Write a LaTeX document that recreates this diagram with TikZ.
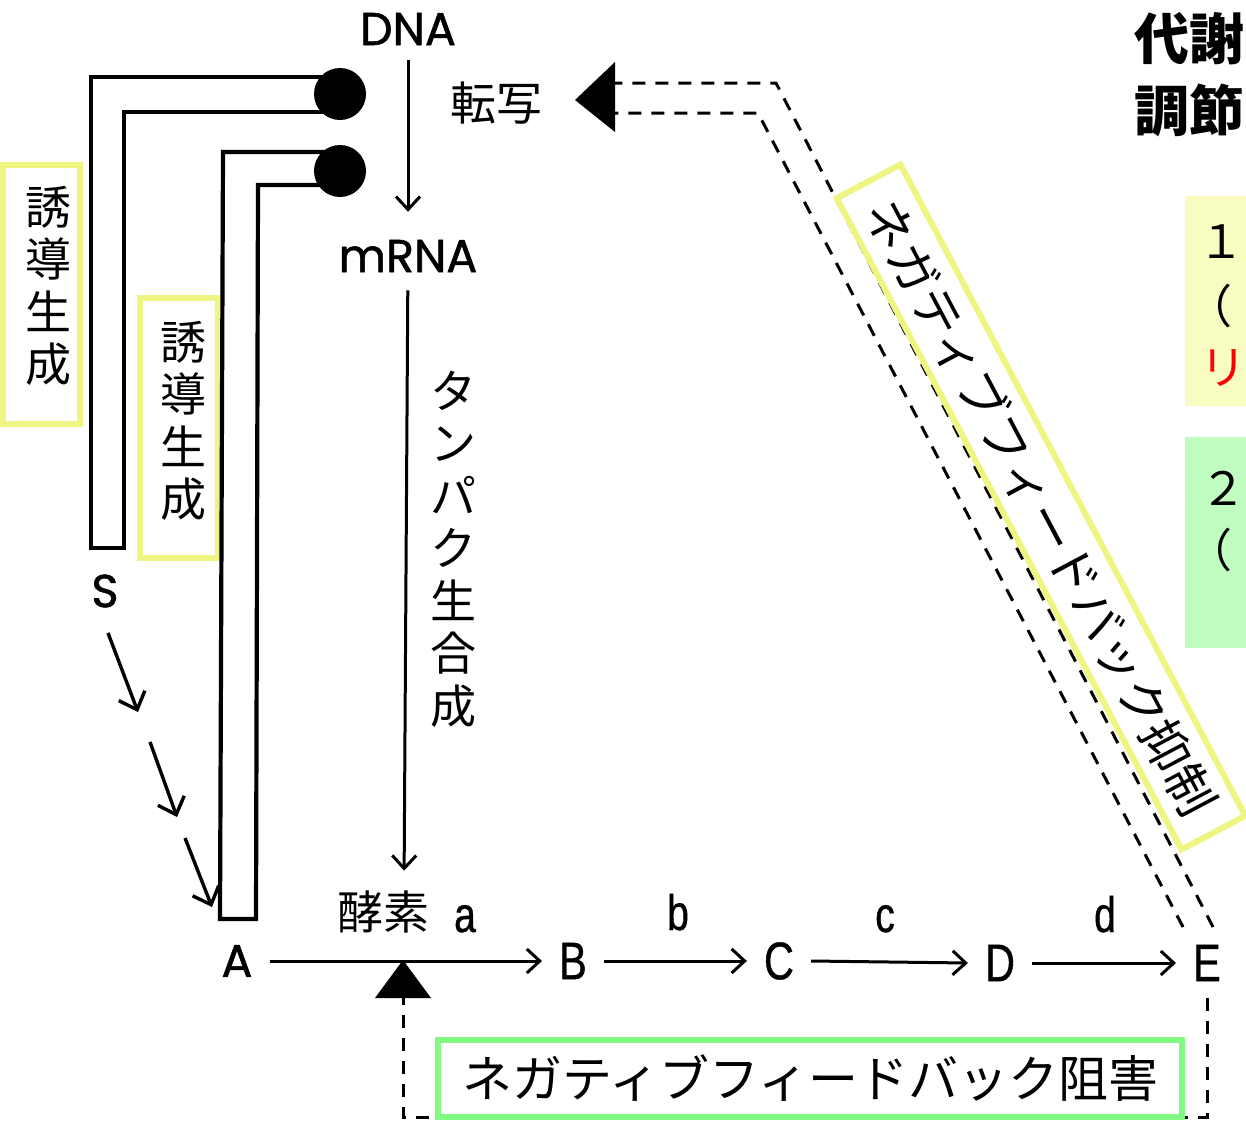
\documentclass[tikz,border=0pt]{standalone}
\usepackage{fontspec}
\usetikzlibrary{arrows.meta}
\newfontfamily\jpf{Noto Sans CJK JP}
\newfontfamily\geof[FakeBold=1.2]{Poppins}
\newfontfamily\condf[FakeStretch=0.78,FakeBold=0.8]{Liberation Sans}
\definecolor{yline}{RGB}{240,244,130}
\definecolor{gline}{RGB}{130,250,130}
\definecolor{yfill}{RGB}{248,252,192}
\definecolor{gfill}{RGB}{192,252,192}
\definecolor{redtxt}{RGB}{255,0,0}
\begin{document}
\begin{tikzpicture}[x=1bp,y=-1bp,
  geo/.style={font=\geof\fontsize{46bp}{50bp}\selectfont, inner xsep=6bp, inner ysep=15bp},
  letter/.style={font=\condf\fontsize{53bp}{56bp}\selectfont, inner xsep=17bp, inner ysep=6bp},
  small/.style={font=\condf\fontsize{50bp}{56bp}\selectfont, inner sep=0bp, anchor=base},
  jp/.style={font=\jpf\fontsize{46bp}{52bp}\selectfont, inner sep=4bp},
  vert/.style={font=\jpf\fontsize{46bp}{52.5bp}\selectfont, inner sep=0bp, align=center},
  arr/.style={line width=3bp, -{Straight Barb[length=13bp,width=24bp,line width=3bp]}},
  sarr/.style={line width=3.4bp, -{Straight Barb[length=15bp,width=28bp,line width=3.4bp]}},
  fb/.style={line width=3bp, dash pattern=on 13bp off 10bp},
  hose/.style={line width=4.2bp, line join=miter},
  ylw/.style={draw=yline, line width=6bp},
  dot/.style={circle, fill=black, minimum size=52bp, inner sep=0bp},
]
\useasboundingbox (0,0) rectangle (1246,1126);
\clip (0,0) rectangle (1246,1126);
\fill[white] (0,0) rectangle (1246,1126);

% ---- right column (cut off) ----
\node[font=\jpf\bfseries\fontsize{55bp}{72bp}\selectfont, anchor=north west, align=left, inner sep=0bp] (title) at (1134,12) {代謝\\調節};
\fill[yfill] (1185,196) rectangle (1250,406);
\node[jp, anchor=west, inner sep=0bp] (one) at (1198,242) {１};
\node[jp, anchor=west, inner sep=0bp] (par1) at (1186,306) {（};
\node[jp, anchor=west, inner sep=0bp, text=redtxt] (ri) at (1200,368) {リ};
\fill[gfill] (1185,437) rectangle (1250,648);
\node[jp, anchor=west, inner sep=0bp] (two) at (1200,488) {２};
\node[jp, anchor=west, inner sep=0bp] (par2) at (1186,550) {（};

% ---- induction labels ----
\node[ylw, minimum width=77bp, minimum height=259bp, inner sep=0bp] (ind1box) at (41.5,294.5) {};
\node[vert] (ind1) at (48,286) {誘\\導\\生\\成};
\node[ylw, minimum width=78bp, minimum height=260bp, inner sep=0bp] (ind2box) at (179,428) {};
\node[vert] (ind2) at (183,421) {誘\\導\\生\\成};

% ---- hoses with dots ----
\draw[hose] (330,77) -- (91,77) -- (91,548) -- (124,548) -- (124,112) -- (330,112);
\draw[hose] (330,152) -- (223,152) -- (220,919) -- (256,919) -- (258,185) -- (330,185);
\node[dot] (dot1) at (340,94) {};
\node[dot] (dot2) at (340,171) {};

% ---- central axis ----
\node[geo] (DNA) at (408,29) {DNA};
\node[geo] (mRNA) at (408,256) {mRNA};
\node[jp] (tensha) at (496,103) {転写};
\node[vert] (tanpaku) at (453,549) {タ\\ン\\パ\\ク\\生\\合\\成};
\draw[arr, shorten >=13bp] (DNA) -- (mRNA);

% ---- pathway ----
\node[geo] (S) at (105,591) {S};
\node[letter, font=\geof\fontsize{46bp}{50bp}\selectfont] (A) at (237,961) {A};
\node[letter] (B) at (573,961) {B};
\node[letter] (C) at (779,961) {C};
\node[letter] (D) at (1000,963) {D};
\node[letter] (E) at (1207,963) {E};
\node[jp, inner sep=0bp] (enz) at (383,912) {酵素};
\node[small] (la) at (465,932) {a};
\node[small] (lb) at (678,930) {b};
\node[small] (lc) at (885,932) {c};
\node[small] (ld) at (1105,932) {d};
\draw[arr, shorten <=3bp, shorten >=20bp] (mRNA) -- (enz.north -| 404,0);

\coordinate (s1a) at (108,633); \coordinate (s1b) at (138,712);
\coordinate (s2a) at (150,742); \coordinate (s2b) at (177,817);
\coordinate (s3a) at (185,838); \coordinate (s3b) at (212,907);
\draw[sarr] (s1a) -- (s1b);
\draw[sarr] (s2a) -- (s2b);
\draw[sarr] (s3a) -- (s3b);

\draw[arr] (A.east) -- (B.west);
\draw[arr] (B.east) -- (C.west);
\draw[arr] (C.east) -- (D.west);
\draw[arr] (D.east) -- (E.west);

% ---- feedback to transcription ----
\coordinate (txtip) at (575,100);
\coordinate (Etop1) at (1213,927);
\coordinate (Etop2) at (1183,927);
\fill (txtip) -- (615,62) -- (615,132) -- cycle;
\draw[fb] (Etop1) -- (776,83) -- (615,83);
\draw[fb] (Etop2) -- (758,113) -- (615,113);
\node[ylw, rotate=-62.1, minimum width=737bp, minimum height=72bp, inner sep=0bp,
      font=\jpf\fontsize{49.5bp}{52bp}\selectfont] (fbtx) at (1041,507) {ネガティブフィードバック抑制};

% ---- feedback inhibition of enzyme a ----
\coordinate (inhib) at (403,960);
\coordinate (inhibBase) at (403,998);
\coordinate (Ebot) at (1207,998);
\fill (inhib) -- ++(-28,38) -- ++(56,0) -- cycle;
\draw[fb] (Ebot) |- (403,1117) -- (inhibBase);
\node[draw=gline, line width=6bp, minimum width=743bp, minimum height=77bp, inner sep=0bp,
      font=\jpf\fontsize{50bp}{52bp}\selectfont] (fbinh) at (810,1078.5) {ネガティブフィードバック阻害};
\end{tikzpicture}
\end{document}
